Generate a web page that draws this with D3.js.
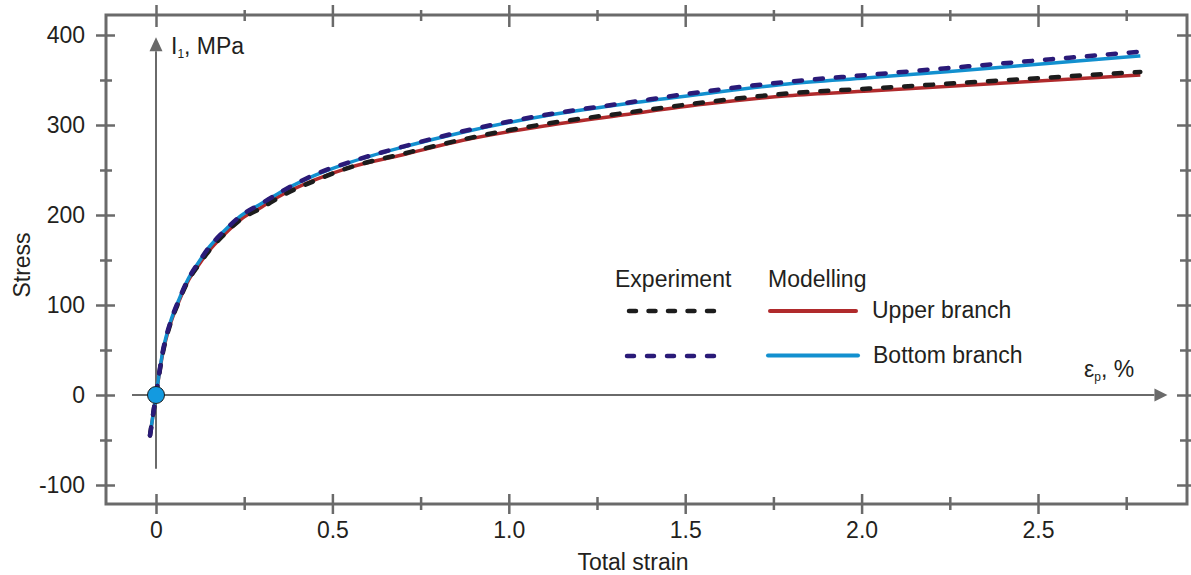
<!DOCTYPE html>
<html>
<head>
<meta charset="utf-8">
<script src="https://cdn.jsdelivr.net/npm/d3@7/dist/d3.min.js"></script>
<style>
  html, body { margin: 0; padding: 0; background: #ffffff; }
  svg { display: block; }
  text, tspan { font-family: "Liberation Sans", Arial, Helvetica, sans-serif; fill: #231f20; }
</style>
</head>
<body>
<svg id="chart" width="1191" height="575"></svg>
<script>
// ---- data ----
const strain     = [-0.017, 0, 0.02, 0.04, 0.065, 0.09, 0.12, 0.15, 0.19, 0.24, 0.30, 0.36, 0.45, 0.55, 0.70, 0.87, 1.10, 1.34, 1.55, 1.79, 2.02, 2.25, 2.44, 2.62, 2.79];
const expUpper   = [-45, 0, 48, 78, 104, 126, 144, 160, 177, 195, 208, 222, 238, 253, 268, 284, 301, 314, 325, 335, 340.5, 346, 350.6, 354.9, 359];
const modUpper   = [-45, 0, 48, 78, 104, 126, 144, 160, 177, 195, 209, 223, 239, 253, 267, 283, 299, 312, 323, 332.5, 337.8, 343, 347.5, 351.6, 355.5];
const expBottom  = [-45, 0, 50, 80, 106, 128, 147, 164, 181, 199, 213, 227, 245, 259, 276, 293, 311, 325, 337, 348, 355.7, 363.4, 369.8, 375.8, 381.5];
const modBottom  = [-45, 0, 50, 80, 106, 128, 147, 164, 181, 199, 213, 227, 244, 258.5, 275.5, 292, 310, 324, 334.5, 345.6, 352.5, 359.5, 365.5, 371.3, 376.7];

const xMajorTicks  = [0, 0.5, 1.0, 1.5, 2.0, 2.5];
const xTickLabels  = ["0", "0.5", "1.0", "1.5", "2.0", "2.5"];
const xMinorTicks  = [0.25, 0.75, 1.25, 1.75, 2.25, 2.75];
const yMajorTicks  = [-100, 0, 100, 200, 300, 400];
const yTickLabels  = ["-100", "0", "100", "200", "300", "400"];
const yMinorTicks  = [-50, 50, 150, 250, 350];

const xTitle = "Total strain";
const yTitle = "Stress";
const legendHeads = ["Experiment", "Modelling"];
const legendNames = ["Upper branch", "Bottom branch"];

// ---- layout ----
const svg = d3.select("#chart");
const frame = { left: 106, right: 1187, top: 15, bottom: 504 };
const x = d3.scaleLinear().domain([0, 2.5]).range([156, 1038]);
const y = d3.scaleLinear().domain([-100, 400]).range([485, 35]);

const grey = "#6a6a6a";
const col = { red: "#b02a2c", blue: "#1290cf", navy: "#2a1a78", black: "#1c1c1c" };
const FS = "23px";

// frame
svg.append("rect")
  .attr("x", frame.left).attr("y", frame.top)
  .attr("width", frame.right - frame.left).attr("height", frame.bottom - frame.top)
  .attr("fill", "none").attr("stroke", grey).attr("stroke-width", 3);

function styleAxis(g) {
  g.select(".domain").remove();
  g.selectAll(".tick line").attr("stroke", grey).attr("stroke-width", 2.5);
  g.selectAll(".tick text").style("font-size", FS).attr("fill", "#231f20");
}

// bottom axis major
const gb = svg.append("g").attr("transform", `translate(0,${frame.bottom})`)
  .call(d3.axisBottom(x).tickValues(xMajorTicks).tickFormat((d, i) => xTickLabels[i]).tickSize(10).tickPadding(8));
styleAxis(gb);
gb.selectAll(".tick line").attr("y1", -10);
// bottom minor
const gbm = svg.append("g").attr("transform", `translate(0,${frame.bottom})`)
  .call(d3.axisBottom(x).tickValues(xMinorTicks).tickFormat("").tickSize(6));
styleAxis(gbm);
gbm.selectAll(".tick line").attr("y1", -7);

// top axis
const gt = svg.append("g").attr("transform", `translate(0,${frame.top})`)
  .call(d3.axisTop(x).tickValues(xMajorTicks).tickFormat("").tickSize(10));
styleAxis(gt);
gt.selectAll(".tick line").attr("y1", 12);
const gtm = svg.append("g").attr("transform", `translate(0,${frame.top})`)
  .call(d3.axisTop(x).tickValues(xMinorTicks).tickFormat("").tickSize(5));
styleAxis(gtm);
gtm.selectAll(".tick line").attr("y1", 6);

// left axis
const gl = svg.append("g").attr("transform", `translate(${frame.left},0)`)
  .call(d3.axisLeft(y).tickValues(yMajorTicks).tickFormat((d, i) => yTickLabels[i]).tickSize(10).tickPadding(11));
styleAxis(gl);
gl.selectAll(".tick line").attr("x1", 9);
const glm = svg.append("g").attr("transform", `translate(${frame.left},0)`)
  .call(d3.axisLeft(y).tickValues(yMinorTicks).tickFormat("").tickSize(6));
styleAxis(glm);
glm.selectAll(".tick line").attr("x1", 6);

// right axis
const gr = svg.append("g").attr("transform", `translate(${frame.right},0)`)
  .call(d3.axisRight(y).tickValues(yMajorTicks).tickFormat("").tickSize(6));
styleAxis(gr);
gr.selectAll(".tick line").attr("x1", -10);
const grm = svg.append("g").attr("transform", `translate(${frame.right},0)`)
  .call(d3.axisRight(y).tickValues(yMinorTicks).tickFormat("").tickSize(4));
styleAxis(grm);
grm.selectAll(".tick line").attr("x1", -7);

// axis titles
svg.append("text").attr("x", 633).attr("y", 570)
  .attr("text-anchor", "middle").style("font-size", FS).text(xTitle);
svg.append("text").attr("transform", "translate(30,265) rotate(-90)")
  .attr("text-anchor", "middle").style("font-size", FS).text(yTitle);

// inner arrows (axes through origin)
const x0 = x(0), y0 = y(0);
svg.append("line").attr("x1", x(-0.068)).attr("x2", x(2.83)).attr("y1", y0).attr("y2", y0)
  .attr("stroke", grey).attr("stroke-width", 2);
svg.append("path")
  .attr("d", `M${x(2.83)},${y0 - 6.5} L${x(2.83) + 13},${y0} L${x(2.83)},${y0 + 6.5} Z`)
  .attr("fill", grey);
svg.append("line").attr("x1", x0).attr("x2", x0).attr("y1", y(-82)).attr("y2", y(382))
  .attr("stroke", grey).attr("stroke-width", 2);
svg.append("path")
  .attr("d", `M${x0 - 6.5},${y(382)} L${x0},${y(382) - 14} L${x0 + 6.5},${y(382)} Z`)
  .attr("fill", grey);

// arrow labels
const lblI = svg.append("text").attr("x", x0 + 15).attr("y", 54).style("font-size", FS);
lblI.append("tspan").text("I");
lblI.append("tspan").attr("dy", 4).style("font-size", "12px").text("1");
lblI.append("tspan").attr("dy", -4).text(", MPa");
const lblE = svg.append("text").attr("x", 1084).attr("y", 377).style("font-size", FS);
lblE.append("tspan").attr("fill", "#231f20").text("ε");
lblE.append("tspan").attr("fill", "#231f20").attr("dy", 4).style("font-size", "12px").text("p");
lblE.append("tspan").attr("fill", "#231f20").attr("dy", -4).text(", %");

// curves
const pts = arr => strain.map((s, i) => [s, arr[i]]);
const line = d3.line().x(d => x(d[0])).y(d => y(d[1])).curve(d3.curveMonotoneX);

svg.append("path").attr("d", line(pts(modUpper))).attr("fill", "none")
  .attr("stroke", col.red).attr("stroke-width", 3.5);
svg.append("path").attr("d", line(pts(modBottom))).attr("fill", "none")
  .attr("stroke", col.blue).attr("stroke-width", 3.5);
svg.append("path").attr("d", line(pts(expUpper))).attr("fill", "none")
  .attr("stroke", col.black).attr("stroke-width", 4.5).attr("stroke-linecap", "round")
  .attr("stroke-dasharray", "8,13");
svg.append("path").attr("d", line(pts(expBottom))).attr("fill", "none")
  .attr("stroke", col.navy).attr("stroke-width", 4.5).attr("stroke-linecap", "round")
  .attr("stroke-dasharray", "8,13");

// origin marker
svg.append("circle").attr("cx", x0).attr("cy", y0).attr("r", 8.5)
  .attr("fill", "#139ae0").attr("stroke", "#1c1c1c").attr("stroke-width", 1);

// legend
svg.append("text").attr("x", 615).attr("y", 287).style("font-size", FS).text(legendHeads[0]);
svg.append("text").attr("x", 768).attr("y", 287).style("font-size", FS).text(legendHeads[1]);
svg.append("text").attr("x", 872).attr("y", 318).style("font-size", FS).text(legendNames[0]);
svg.append("text").attr("x", 873).attr("y", 363).style("font-size", FS).text(legendNames[1]);

svg.append("line").attr("x1", 629).attr("x2", 714).attr("y1", 311).attr("y2", 311)
  .attr("stroke", col.black).attr("stroke-width", 4.5).attr("stroke-linecap", "round")
  .attr("stroke-dasharray", "7,12.5");
svg.append("line").attr("x1", 627).attr("x2", 714).attr("y1", 356).attr("y2", 356)
  .attr("stroke", col.navy).attr("stroke-width", 4.5).attr("stroke-linecap", "round")
  .attr("stroke-dasharray", "7,13");
svg.append("line").attr("x1", 770).attr("x2", 856).attr("y1", 311).attr("y2", 311)
  .attr("stroke", col.red).attr("stroke-width", 4).attr("stroke-linecap", "round");
svg.append("line").attr("x1", 768).attr("x2", 858).attr("y1", 355.5).attr("y2", 355.5)
  .attr("stroke", col.blue).attr("stroke-width", 4).attr("stroke-linecap", "round");
</script>
</body>
</html>
